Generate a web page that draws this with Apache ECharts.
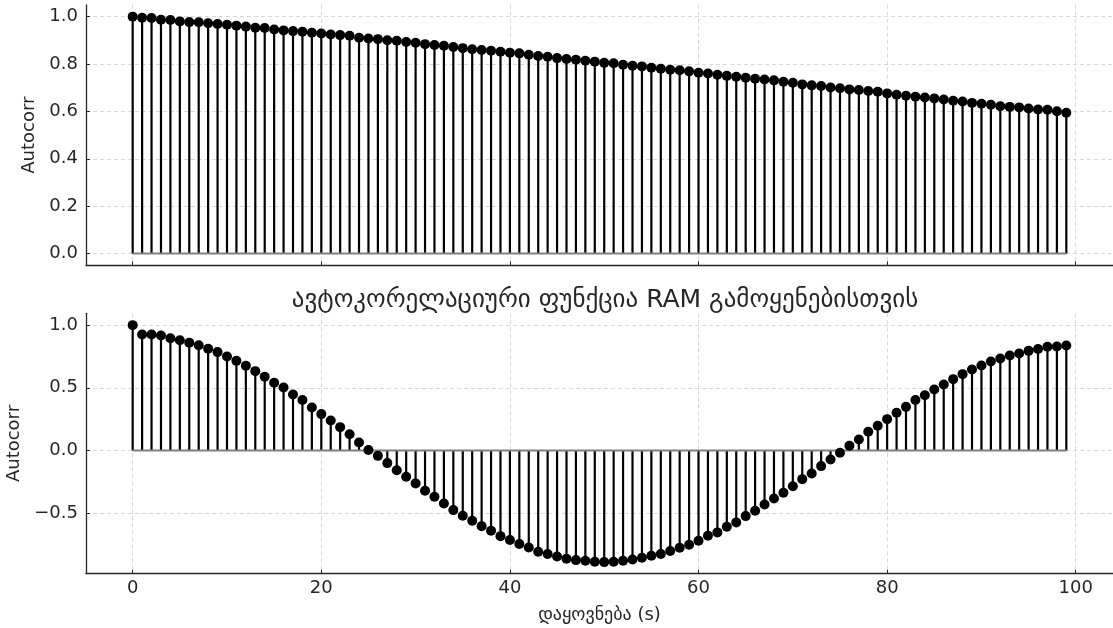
<!DOCTYPE html>
<html>
<head>
<meta charset="utf-8">
<script src="https://cdn.jsdelivr.net/npm/echarts@6/dist/echarts.min.js"></script>
<style>html,body{margin:0;padding:0;background:#fff}#c{width:1113px;height:628px}</style>
</head>
<body>
<div id="c"></div>
<script>
const titleText = 'ავტოკორელაციური ფუნქცია RAM გამოყენებისთვის';
const xLabel = 'დაყოვნება (s)';
const yLabel = 'Autocorr';
const xTicks = [0, 20, 40, 60, 80, 100];
const yTicksTop = [0.0, 0.2, 0.4, 0.6, 0.8, 1.0];
const yTicksBottom = [-0.5, 0.0, 0.5, 1.0];

const acfTop = [
  1.000, 0.995, 0.994, 0.987, 0.986, 0.980, 0.977, 0.976, 0.972, 0.969,
  0.966, 0.962, 0.958, 0.953, 0.952, 0.946, 0.942, 0.939, 0.936, 0.932,
  0.929, 0.925, 0.922, 0.919, 0.911, 0.908, 0.905, 0.900, 0.898, 0.893,
  0.890, 0.884, 0.880, 0.877, 0.872, 0.867, 0.862, 0.859, 0.856, 0.852,
  0.848, 0.845, 0.839, 0.834, 0.831, 0.825, 0.821, 0.818, 0.814, 0.810,
  0.805, 0.803, 0.797, 0.793, 0.790, 0.784, 0.780, 0.776, 0.774, 0.769,
  0.763, 0.760, 0.755, 0.750, 0.746, 0.742, 0.738, 0.735, 0.731, 0.725,
  0.721, 0.714, 0.710, 0.707, 0.701, 0.698, 0.693, 0.690, 0.686, 0.683,
  0.676, 0.670, 0.666, 0.662, 0.659, 0.655, 0.650, 0.645, 0.642, 0.636,
  0.632, 0.628, 0.622, 0.619, 0.617, 0.612, 0.608, 0.607, 0.601, 0.594
];

const acfBottom = [
  1.000, 0.926, 0.926, 0.918, 0.896, 0.880, 0.859, 0.840, 0.811, 0.785,
  0.750, 0.715, 0.676, 0.633, 0.588, 0.540, 0.503, 0.447, 0.402, 0.343,
  0.290, 0.239, 0.186, 0.130, 0.064, 0.003, -0.043, -0.101, -0.158, -0.210,
  -0.263, -0.322, -0.370, -0.423, -0.476, -0.521, -0.561, -0.604, -0.641, -0.684,
  -0.715, -0.747, -0.774, -0.809, -0.827, -0.846, -0.864, -0.875, -0.880, -0.888,
  -0.891, -0.888, -0.880, -0.870, -0.856, -0.840, -0.827, -0.803, -0.777, -0.753,
  -0.721, -0.681, -0.654, -0.609, -0.574, -0.524, -0.481, -0.431, -0.383, -0.338,
  -0.285, -0.229, -0.184, -0.125, -0.072, -0.019, 0.037, 0.088, 0.149, 0.197,
  0.250, 0.301, 0.348, 0.402, 0.441, 0.487, 0.527, 0.569, 0.609, 0.646,
  0.678, 0.710, 0.734, 0.758, 0.774, 0.795, 0.809, 0.827, 0.830, 0.838
];

const lags = acfTop.map((_, i) => i);

const FONT = 'DejaVu Sans';
const TXT = '#262626';
const FS = 18;
const chart = echarts.init(document.getElementById('c'), null, {renderer: 'canvas'});

function stemRender(params, api) {
  const x = api.value(0), y = api.value(1);
  const p0 = api.coord([x, 0]);
  const p1 = api.coord([x, y]);
  return {
    type: 'line',
    shape: {x1: p0[0], y1: p0[1], x2: p1[0], y2: p1[1]},
    style: {stroke: '#000', lineWidth: 2.2}
  };
}

function fmtY(v) {
  return v.toFixed(1).replace('-', '\u2212');
}

function xAxisCfg(gridIndex, showLabels) {
  return {
    type: 'value', gridIndex: gridIndex,
    min: -4.95, max: 103.95,
    axisLine: {show: true, onZero: false, lineStyle: {color: '#262626', width: 1.3}},
    axisTick: {show: true, inside: true, length: 4, customValues: xTicks, lineStyle: {color: '#262626', width: 1}},
    axisLabel: {show: showLabels, customValues: xTicks, fontFamily: FONT, fontSize: FS, color: TXT, margin: 6},
    splitLine: {show: true, lineStyle: {color: '#cfcfcf', type: [4, 3], width: 0.8}},
    name: showLabels ? xLabel : '',
    nameLocation: 'middle', nameGap: 33,
    nameTextStyle: {fontFamily: FONT, fontSize: FS, color: TXT}
  };
}

function yAxisCfg(gridIndex, min, max, ticks, nameGap) {
  return {
    type: 'value', gridIndex: gridIndex,
    min: min, max: max,
    axisLine: {show: true, onZero: false, lineStyle: {color: '#262626', width: 1.3}},
    axisTick: {show: true, inside: true, length: 4, customValues: ticks, lineStyle: {color: '#262626', width: 1}},
    axisLabel: {show: true, customValues: ticks, formatter: fmtY, fontFamily: FONT, fontSize: FS, color: TXT, margin: 8},
    splitLine: {show: true, lineStyle: {color: '#cfcfcf', type: [4, 3], width: 0.8}},
    name: yLabel, nameLocation: 'middle', nameGap: nameGap, nameRotate: 90,
    nameTextStyle: {fontFamily: FONT, fontSize: FS, color: TXT}
  };
}

const topData = lags.map((x, i) => [x, acfTop[i]]);
const botData = lags.map((x, i) => [x, acfBottom[i]]);

chart.setOption({
  animation: false,
  backgroundColor: '#fff',
  textStyle: {fontFamily: FONT},
  title: {
    text: titleText,
    left: 600, top: 283, textAlign: 'center',
    textStyle: {fontFamily: FONT, fontSize: 25, fontWeight: 'normal', color: TXT}
  },
  grid: [
    {left: 86, right: 0, top: 4.8, height: 260.6, containLabel: false, outerBoundsMode: 'none'},
    {left: 86, right: 0, top: 313.3, height: 260.4, containLabel: false, outerBoundsMode: 'none'}
  ],
  xAxis: [xAxisCfg(0, false), xAxisCfg(1, true)],
  yAxis: [
    yAxisCfg(0, -0.05, 1.05, yTicksTop, 44.5),
    yAxisCfg(1, -0.9836, 1.0946, yTicksBottom, 61)
  ],
  series: [
    {type: 'custom', xAxisIndex: 0, yAxisIndex: 0, data: topData, renderItem: stemRender, z: 2},
    {type: 'line', xAxisIndex: 0, yAxisIndex: 0, data: [[lags[0], 0], [lags[lags.length - 1], 0]],
     symbol: 'none', lineStyle: {color: '#808080', width: 2}, z: 3},
    {type: 'scatter', xAxisIndex: 0, yAxisIndex: 0, data: topData, symbol: 'circle', symbolSize: 10,
     itemStyle: {color: '#000', opacity: 1}, z: 4},
    {type: 'custom', xAxisIndex: 1, yAxisIndex: 1, data: botData, renderItem: stemRender, z: 2},
    {type: 'line', xAxisIndex: 1, yAxisIndex: 1, data: [[lags[0], 0], [lags[lags.length - 1], 0]],
     symbol: 'none', lineStyle: {color: '#808080', width: 2}, z: 3},
    {type: 'scatter', xAxisIndex: 1, yAxisIndex: 1, data: botData, symbol: 'circle', symbolSize: 10,
     itemStyle: {color: '#000', opacity: 1}, z: 4}
  ]
});
</script>
</body>
</html>
